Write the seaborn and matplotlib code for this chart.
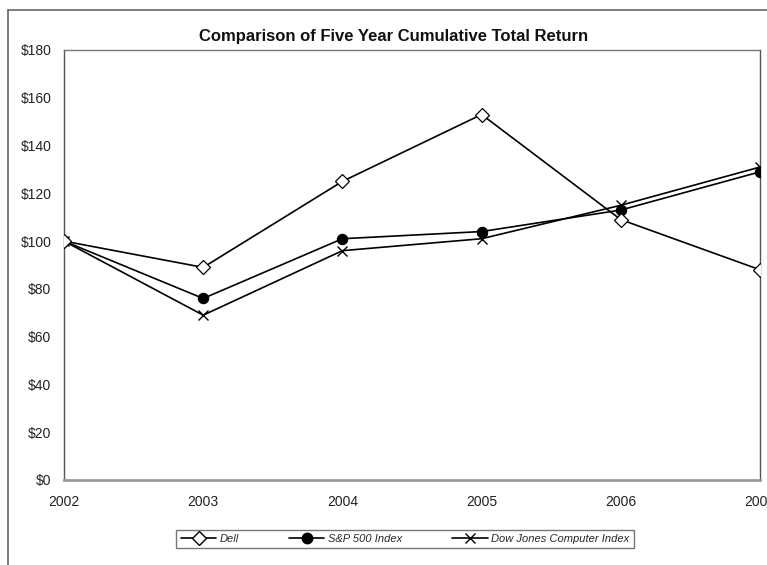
import matplotlib
matplotlib.use("Agg")
import matplotlib.pyplot as plt
import seaborn as sns
import pandas as pd
from matplotlib.lines import Line2D

years = [2002, 2003, 2004, 2005, 2006, 2007]
dell = [100, 89, 125, 153, 109, 88]
sp500 = [100, 76, 101, 104, 113, 129]
dowjones = [100, 69, 96, 101, 115, 131]
yticks = [0, 20, 40, 60, 80, 100, 120, 140, 160, 180]

sns.set_theme(style="white")
plt.rcParams['font.family'] = ['Liberation Sans', 'DejaVu Sans']

fig = plt.figure(figsize=(7.67, 5.65), dpi=100)
ax = fig.add_axes([64/767, 1-480/565, (760-64)/767, (480-50)/565])

df = pd.DataFrame({"year": years, "Dell": dell, "S&P 500 Index": sp500,
                   "Dow Jones Computer Index": dowjones})

sns.lineplot(data=df, x="year", y="Dow Jones Computer Index", ax=ax, color="black",
             lw=1.2, marker="x", markersize=7, mec="black", mew=1.0, zorder=3)
sns.lineplot(data=df, x="year", y="S&P 500 Index", ax=ax, color="black",
             lw=1.2, marker="o", markersize=7.5, mfc="black", mec="black", zorder=4)
sns.lineplot(data=df, x="year", y="Dell", ax=ax, color="black",
             lw=1.2, marker="D", markersize=7.5, mfc="white", mec="black", mew=0.9, zorder=5)

ax.set_xlim(2002, 2007)
ax.set_ylim(0, 180)
ax.set_xticks(years)
ax.set_xticklabels([str(y) for y in years], fontsize=10)
ax.set_yticks(yticks)
ax.set_yticklabels([f"${v}" for v in yticks], fontsize=10)
ax.set_xlabel("")
ax.set_ylabel("")
ax.tick_params(axis="both", direction="inout", length=8, width=1, color="#555555",
               pad=5, labelcolor="#222222")
ax.tick_params(axis="x", pad=7)
for side in ["top", "right", "left"]:
    ax.spines[side].set_color("#555555")
    ax.spines[side].set_linewidth(1)
ax.spines["bottom"].set_color("#999999")
ax.spines["bottom"].set_linewidth(2)
ax.spines["top"].set_color("#777777")

fig.text(394/767, 1-36/565, "Comparison of Five Year Cumulative Total Return",
         ha="center", va="center", fontsize=12, fontweight="bold", color="#111111")

# outer frame
fig.add_artist(Line2D([8/767, 8/767], [0, 1-10/565], transform=fig.transFigure,
                      color="#666666", lw=1.2))
fig.add_artist(Line2D([8/767, 1], [1-10/565, 1-10/565], transform=fig.transFigure,
                      color="#666666", lw=1.2))

handles = [
    Line2D([], [], color="black", lw=1.2, marker="D", markersize=7.5, mfc="white", mec="black"),
    Line2D([], [], color="black", lw=1.2, marker="o", markersize=7.5, mfc="black"),
    Line2D([], [], color="black", lw=1.2, marker="x", markersize=7),
]
labels = ["Dell", "S&P 500 Index", "Dow Jones Computer Index"]
leg = fig.legend(handles, labels, loc="center", bbox_to_anchor=(405/767, 1-539/565),
                 ncol=3, frameon=True, fancybox=False, edgecolor="#555555",
                 prop={"style": "italic", "size": 8}, handlelength=3.2, handletextpad=0.3,
                 columnspacing=4.5, borderpad=0.4, borderaxespad=0)
leg.get_frame().set_linewidth(1)

fig.savefig("out.png", dpi=100)
